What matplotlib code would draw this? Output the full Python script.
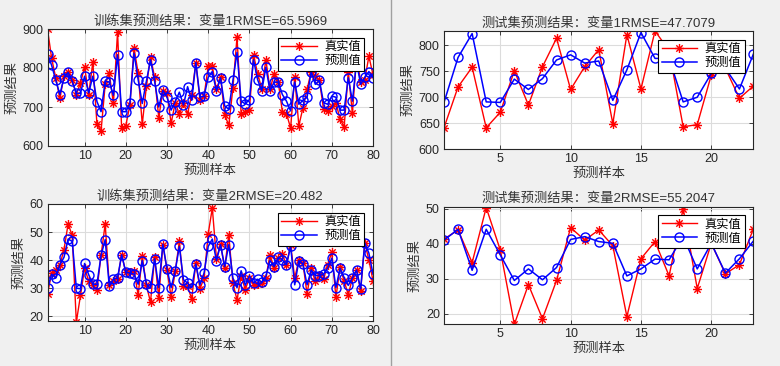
import numpy as np
import matplotlib
matplotlib.use("Agg")
import matplotlib.pyplot as plt
from matplotlib.path import Path
from matplotlib.lines import Line2D

# ── Data ─────────────────────────────────────────────────────────────────────

train_v1_true = [900, 825, 775, 722, 779, 791, 768, 732, 762, 802,
                 732, 815, 656, 639, 758, 786, 709, 893, 645, 652,
                 705, 851, 787, 656, 753, 828, 776, 673, 741, 736,
                 658, 711, 681, 709, 683, 732, 813, 719, 728, 804,
                 804, 745, 777, 680, 653, 749, 880, 683, 686, 692,
                 834, 785, 747, 821, 745, 785, 764, 688, 683, 646,
                 777, 652, 698, 745, 791, 779, 768, 694, 690, 703,
                 711, 669, 649, 790, 684, 830, 765, 770, 830, 783]
train_v1_pred = [836, 807, 769, 732, 775, 789, 766, 735, 735, 779,
                 736, 779, 714, 688, 766, 764, 730, 834, 688, 688,
                 709, 838, 770, 709, 766, 821, 766, 700, 743, 725,
                 692, 714, 738, 705, 752, 717, 814, 725, 728, 776,
                 791, 740, 775, 703, 694, 768, 840, 715, 708, 719,
                 821, 770, 741, 802, 741, 764, 764, 732, 715, 690,
                 764, 707, 717, 725, 791, 758, 768, 711, 707, 728,
                 725, 692, 692, 775, 715, 815, 758, 776, 791, 775]

train_v2_true = [27.9, 35.4, 36.5, 38.3, 43.7, 52.9, 48.8, 17.9, 27.4, 37.1,
                 32.6, 31.0, 29.4, 41.7, 52.9, 31.0, 32.4, 33.3, 41.9, 35.7,
                 35.7, 36.2, 27.6, 41.3, 31.0, 25.0, 41.0, 26.4, 45.5, 36.5,
                 26.8, 36.0, 46.7, 30.6, 30.6, 26.2, 38.9, 29.8, 33.6, 49.3,
                 58.6, 40.5, 45.7, 37.1, 49.0, 31.8, 25.8, 34.5, 29.4, 33.8,
                 31.2, 31.4, 31.8, 33.8, 41.9, 37.1, 40.7, 42.1, 38.3, 45.5,
                 33.6, 40.1, 38.9, 27.9, 37.1, 32.4, 34.8, 33.3, 38.3, 42.9,
                 26.7, 37.4, 32.6, 27.6, 33.6, 36.5, 29.0, 46.1, 40.1, 32.6]
train_v2_pred = [30.0, 35.0, 33.6, 38.3, 41.0, 47.5, 46.7, 30.0, 29.8, 38.8,
                 34.8, 31.4, 31.4, 41.7, 47.3, 30.6, 33.3, 33.6, 41.9, 35.7,
                 35.4, 35.0, 31.4, 39.8, 31.4, 30.0, 40.5, 30.2, 45.7, 36.9,
                 30.2, 36.2, 44.9, 33.0, 31.8, 30.2, 38.6, 31.2, 35.4, 44.9,
                 47.5, 39.8, 45.5, 37.7, 45.5, 33.6, 30.2, 36.2, 31.0, 34.5,
                 31.8, 33.2, 32.1, 34.2, 39.9, 37.7, 41.0, 40.1, 38.3, 44.9,
                 31.2, 39.8, 38.6, 31.2, 36.5, 34.5, 34.5, 35.0, 37.1, 40.7,
                 30.2, 37.1, 33.8, 31.0, 33.6, 36.5, 29.8, 46.1, 42.5, 35.0]

test_v1_true = [641, 720, 758, 641, 671, 751, 685, 759, 814, 715, 759, 792,
                649, 821, 716, 828, 790, 643, 647, 743, 756, 698, 722]
test_v1_pred = [690, 777, 823, 691, 690, 735, 715, 736, 772, 782, 766, 770,
                694, 753, 825, 775, 775, 691, 700, 746, 756, 716, 784]

test_v2_true = [41.3, 43.9, 34.6, 50.3, 38.2, 17.0, 28.3, 18.6, 29.5, 44.6, 41.0, 43.9,
                39.4, 19.2, 35.7, 40.6, 30.8, 50.0, 27.2, 40.1, 31.4, 34.0, 44.3]
test_v2_pred = [41.0, 44.1, 32.4, 44.1, 36.8, 29.5, 32.8, 29.7, 33.2, 41.2, 42.0, 40.6,
                40.1, 30.8, 32.8, 35.6, 35.4, 42.0, 32.8, 40.1, 31.6, 35.7, 40.8]

titles = ["训练集预测结果：变量1RMSE=65.5969",
          "训练集预测结果：变量2RMSE=20.482",
          "测试集预测结果：变量1RMSE=47.7079",
          "测试集预测结果：变量2RMSE=55.2047"]

# ── Style ────────────────────────────────────────────────────────────────────

FONTS = ["Liberation Sans", "Noto Sans CJK SC"]
plt.rcParams["font.family"] = FONTS
BG = "#f0f0f0"
AX_COLOR = "#262626"

# MATLAB-like asterisk marker (plus + cross)
d = 0.7071
STAR = Path([(-1, 0), (1, 0), (0, -1), (0, 1), (-d, -d), (d, d), (-d, d), (d, -d)],
            [Path.MOVETO, Path.LINETO] * 4)

W, H = 780, 366
fig = plt.figure(figsize=(W / 100, H / 100), dpi=100, facecolor=BG)


def rect(l, r, t, b):
    return [l / W, 1 - b / H, (r - l) / W, (b - t) / H]


def panel(pos, true, pred, title, ylim, yticks, xticks):
    ax = fig.add_axes(rect(*pos))
    x = np.arange(1, len(true) + 1)
    ax.plot(x, true, color="red", lw=1.0, marker=STAR, ms=6.5, mew=1.0,
            mec="red", mfc="none", label="真实值")
    ax.plot(x, pred, color="blue", lw=1.1, marker="o", ms=6.5, mew=1.0,
            mec="blue", mfc="none", label="预测值")
    ax.set_xlim(1, len(true))
    ax.set_ylim(*ylim)
    ax.set_yticks(yticks)
    ax.set_xticks(xticks)
    ax.grid(True, color="#dcdcdc", lw=0.8)
    ax.set_axisbelow(True)
    for s in ax.spines.values():
        s.set_color(AX_COLOR)
        s.set_linewidth(0.8)
    ax.tick_params(direction="in", length=3, width=0.6, colors=AX_COLOR,
                   labelsize=9, top=True, right=True, pad=3)
    ax.set_title(title, fontsize=9.5, color="#333333", pad=3)
    ax.set_xlabel("预测样本", fontsize=9.5, color="#333333", labelpad=2)
    ax.set_ylabel("预测结果", fontsize=9.5, color="#333333", labelpad=3)
    leg = ax.legend(loc="upper right", fontsize=8.8, frameon=True, fancybox=False,
                    framealpha=1, edgecolor="black", handlelength=2.9,
                    borderpad=0.3, labelspacing=0.15, handletextpad=0.6,
                    borderaxespad=0.7)
    leg.get_frame().set_linewidth(0.8)
    return ax


panel((47.5, 373, 29, 146), train_v1_true, train_v1_pred, titles[0],
      (600, 900), [600, 700, 800, 900], range(10, 81, 10))
panel((47.5, 373, 204, 321), train_v2_true, train_v2_pred, titles[1],
      (18.3, 60), [20, 30, 40, 50, 60], range(10, 81, 10))
panel((444, 753.5, 31, 149), test_v1_true, test_v1_pred, titles[2],
      (600, 828), [600, 650, 700, 750, 800], [5, 10, 15, 20])
panel((444, 753.5, 206.5, 324.3), test_v2_true, test_v2_pred, titles[3],
      (17.0, 50.6), [20, 30, 40, 50], [5, 10, 15, 20])

# vertical divider between the two halves
fig.add_artist(Line2D([391 / W, 391 / W], [0, 1], transform=fig.transFigure,
                      color="#a0a0a0", lw=1.0))

fig.savefig("out.png", dpi=100, facecolor=BG)
